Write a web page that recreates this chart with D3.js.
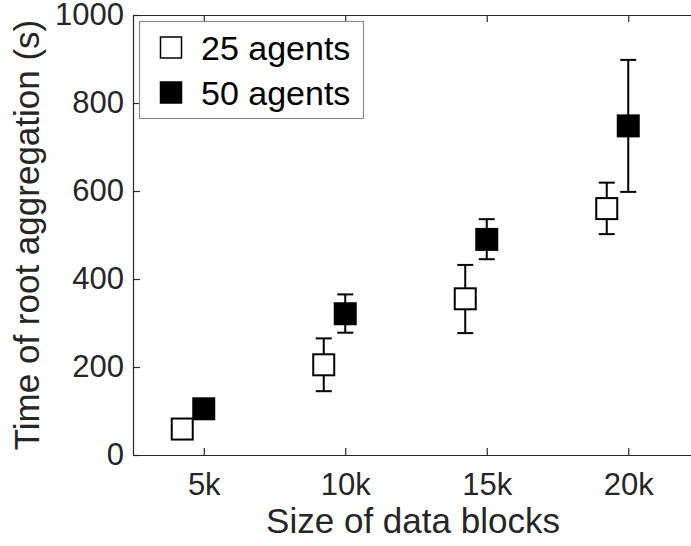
<!DOCTYPE html>
<html>
<head>
<meta charset="utf-8">
<script src="https://cdn.jsdelivr.net/npm/d3@7"></script>
<style>
  body { margin: 0; background: #fff; }
  svg { display: block; }
  text { font-family: "Liberation Sans", Arial, sans-serif; fill: #262626; }
</style>
</head>
<body>
<div id="chart"></div>
<script>
// data (k blocks -> seconds)
const blockSizes = [5, 10, 15, 20];
const tickLabels = ["5k", "10k", "15k", "20k"];
const yTicks = [0, 200, 400, 600, 800, 1000];

const mean25 = [59, 205, 355, 560];
const low25  = [48, 145, 277, 502];
const high25 = [70, 265, 432, 619];

const mean50 = [105, 321, 490, 748];
const low50  = [96, 278, 445, 598];
const high50 = [114, 365, 536, 898];

const W = 691, H = 546;
const margin = { left: 133, top: 15 };
const plotW = 566, plotH = 440;

const svg = d3.select("#chart").append("svg")
  .attr("width", W).attr("height", H);

const x = d3.scaleLinear().domain([2.5, 22.5]).range([margin.left, margin.left + plotW]);
const y = d3.scaleLinear().domain([0, 1000]).range([margin.top + plotH, margin.top]);

const axisColor = "#262626";

// axes (box on, ticks pointing inward)
const gx = svg.append("g")
  .attr("transform", `translate(0,${margin.top + plotH})`)
  .call(d3.axisBottom(x).tickValues(blockSizes).tickFormat((d, i) => tickLabels[i])
    .tickSizeInner(-7).tickSizeOuter(0).tickPadding(18));
gx.selectAll("text").style("font-size", "31px").attr("dy", "0.71em");

svg.append("g")
  .attr("transform", `translate(0,${margin.top})`)
  .call(d3.axisTop(x).tickValues(blockSizes).tickFormat("").tickSizeInner(-7).tickSizeOuter(0));

const gy = svg.append("g")
  .attr("transform", `translate(${margin.left},0)`)
  .call(d3.axisLeft(y).tickValues(yTicks).tickFormat(d3.format("d"))
    .tickSizeInner(-7).tickSizeOuter(0).tickPadding(10));
gy.selectAll("text").style("font-size", "31px").attr("x", -9);

svg.selectAll(".domain, .tick line").attr("stroke", axisColor).attr("stroke-width", 1.2);
svg.selectAll(".tick text").attr("fill", axisColor);

// axis titles
svg.append("text")
  .attr("x", 413).attr("y", 533)
  .attr("text-anchor", "middle")
  .style("font-size", "35px")
  .text("Size of data blocks");

svg.append("text")
  .attr("transform", "translate(39,235) rotate(-90)")
  .attr("text-anchor", "middle")
  .style("font-size", "35px")
  .text("Time of root aggregation (s)");

// series
const offset25 = -0.76;
const series = [
  { mean: mean25, low: low25, high: high25, dx: offset25, fill: "#fff" },
  { mean: mean50, low: low50, high: high50, dx: 0, fill: "#000" }
];
const sq = 21, cap = 8;

series.forEach(s => {
  const g = svg.append("g");
  const pts = blockSizes.map((b, i) => ({ b: b + s.dx, m: s.mean[i], lo: s.low[i], hi: s.high[i] }));

  g.selectAll(".err").data(pts).enter().append("line")
    .attr("x1", d => x(d.b)).attr("x2", d => x(d.b))
    .attr("y1", d => y(d.lo)).attr("y2", d => y(d.hi))
    .attr("stroke", "#000").attr("stroke-width", 2);

  ["lo", "hi"].forEach(k => {
    g.selectAll(".cap-" + k).data(pts).enter().append("line")
      .attr("x1", d => x(d.b) - cap).attr("x2", d => x(d.b) + cap)
      .attr("y1", d => y(d[k])).attr("y2", d => y(d[k]))
      .attr("stroke", "#000").attr("stroke-width", 2);
  });

  g.selectAll(".mk").data(pts).enter().append("rect")
    .attr("x", d => x(d.b) - sq / 2).attr("y", d => y(d.m) - sq / 2)
    .attr("width", sq).attr("height", sq)
    .attr("fill", s.fill).attr("stroke", "#000").attr("stroke-width", 2);
});

// legend
const lg = svg.append("g");
lg.append("rect")
  .attr("x", 139.5).attr("y", 21.5).attr("width", 224).attr("height", 97)
  .attr("fill", "#fff").attr("stroke", "#8c8c8c").attr("stroke-width", 1.2);

const legendItems = [
  { label: "25 agents", fill: "#fff", cy: 47.5 },
  { label: "50 agents", fill: "#000", cy: 92.5 }
];
legendItems.forEach(it => {
  lg.append("rect")
    .attr("x", 171 - sq / 2).attr("y", it.cy - sq / 2)
    .attr("width", sq).attr("height", sq)
    .attr("fill", it.fill).attr("stroke", "#000").attr("stroke-width", 1.5);
  lg.append("text")
    .attr("x", 201).attr("y", it.cy + 12)
    .style("font-size", "34px")
    .style("fill", "#000")
    .text(it.label);
});
</script>
</body>
</html>
